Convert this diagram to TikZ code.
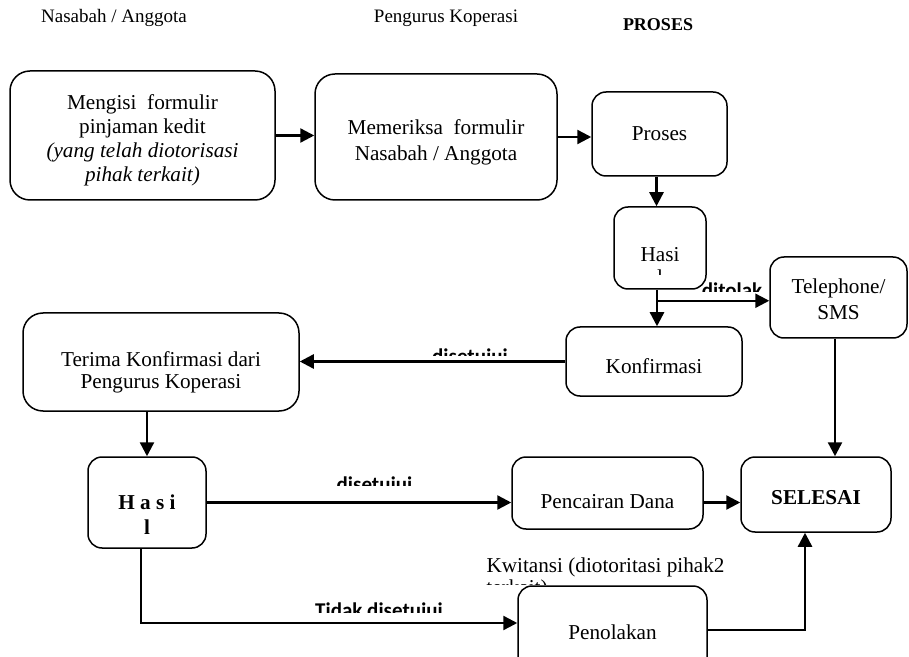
\documentclass[tikz,border=0pt]{standalone}
\usepackage{fontspec}
\setmainfont{Liberation Serif}
\newfontfamily\lblfont{Carlito}
\usetikzlibrary{arrows.meta}
\begin{document}
\begin{tikzpicture}[x=0.5pt,y=-0.5pt,
  box/.style={draw, line width=0.75pt, rounded corners=7pt, inner sep=0pt},
  bigbox/.style={box, rounded corners=10pt},
  arr/.style={line width=1.2pt, -{Triangle[length=7pt,width=7pt]}},
  lbl/.style={font=\lblfont\bfseries\fontsize{10.5}{12}\selectfont, anchor=base, inner sep=0pt},
  txt/.style={font=\fontsize{10.6}{12}\selectfont, inner sep=0pt, align=center},
  hdr/.style={font=\fontsize{9.5}{11}\selectfont, inner sep=0pt}]
\useasboundingbox (0,0) rectangle (909,657);
\clip (0,0) rectangle (909,657);

% headers
\node[hdr] (hA) at (114,18) {Nasabah / Anggota};
\node[hdr] (hB) at (446,18) {Pengurus Koperasi};
\node[hdr, font=\fontsize{9}{11}\selectfont\bfseries] (hC) at (658,25) {PROSES};

% boxes
\node[bigbox, minimum width=132.5pt, minimum height=64.5pt] (m1) at (142.5,135.5) {};
\node[txt] (m1t) at (142.5,140)
  {Mengisi\ \ formulir\\pinjaman kedit\\\textit{(yang telah diotorisasi}\\\textit{pihak terkait)}};
\node[bigbox, minimum width=121pt, minimum height=63pt] (m2) at (436,137) {};
\node[txt, font=\fontsize{10.6}{13}\selectfont] (m2t) at (436,142) {Memeriksa\ \ formulir\\Nasabah / Anggota};
\node[box, minimum width=67.5pt, minimum height=42pt] (pr) at (659.5,134) {};
\node[txt] (prt) at (659.5,134) {Proses};
\node[box, minimum width=46pt, minimum height=41pt] (h1) at (660,248) {};
\node[txt] (h1t) at (660,255) {Hasi};
\begin{scope}
  \clip (620,265) rectangle (700,275);
  \node[txt, anchor=base] (h1l) at (660,285) {l};
\end{scope}
\node[box, minimum width=68.5pt, minimum height=40.5pt] (tel) at (838.5,297.5) {};
\node[txt, font=\fontsize{10.6}{13}\selectfont] (telt) at (838.5,299) {Telephone/\\SMS};
\node[box, minimum width=88pt, minimum height=34.5pt] (kon) at (654,361.5) {};
\node[txt] (kont) at (654,366) {Konfirmasi};
\node[bigbox, minimum width=138pt, minimum height=49pt] (ter) at (161,362) {};
\node[txt, font=\fontsize{10.6}{11}\selectfont] (tert) at (161,372) {Terima Konfirmasi dari\\Pengurus Koperasi};
\node[box, minimum width=59pt, minimum height=45.5pt] (h2) at (147,502.5) {};
\node[txt, font=\fontsize{10.6}{12.5}\selectfont\bfseries] (h2t) at (147,515) {H a s i\\l};
\node[box, minimum width=95.5pt, minimum height=36pt] (pc) at (607.5,493) {};
\node[txt] (pct) at (607.5,502) {Pencairan Dana};
\node[box, minimum width=75pt, minimum height=37.5pt] (sel) at (816,494.5) {};
\node[txt, font=\fontsize{10.6}{12}\selectfont\bfseries] (selt) at (816,498) {SELESAI};
\node[box, minimum width=94.5pt, minimum height=46pt] (pen) at (612.5,632) {};
\node[txt] (pent) at (612.5,632) {Penolakan};

% Kwitansi note
\node[txt, anchor=base] (kw) at (605.5,572) {Kwitansi (diotoritasi pihak2};
\begin{scope}
  \clip (480,570) rectangle (740,584);
  \node[txt, anchor=base west] (kw2) at (486,594) {terkait)};
\end{scope}

% connectors
\draw[arr] (m1.east) -- (m1.east -| m2.west);
\draw[arr] (m2.east) -- (m2.east -| pr.west);
\draw[arr] ([xshift=-1.5pt]pr.south) -- ([xshift=-1.5pt]pr.south |- h1.north);
\draw[arr] ([xshift=-1.5pt]h1.south) -- ([xshift=-1.5pt]h1.south |- kon.north);
\coordinate (br) at ([xshift=-1.5pt,yshift=-5.5pt]h1.south);
\draw[arr] (br) -- (br -| tel.west);
\draw[arr] (kon.west) -- (kon.west -| ter.east);
\draw[arr] (h2.north |- ter.south) -- (h2.north);
\draw[arr] (h2.east) -- (h2.east -| pc.west);
\draw[arr] (h2.east -| pc.east) -- (h2.east -| sel.west);
\draw[arr] ([xshift=-1.75pt]tel.south) -- ([xshift=-1.75pt]tel.south |- sel.north);
\draw[arr] ([xshift=-3pt]h2.south) |- ([yshift=4.5pt]pen.west);
\draw[arr] ([yshift=1pt]pen.east) -| ([xshift=-5.5pt]sel.south);

% clipped labels
\begin{scope}
  \clip (690,270) rectangle (780,292);
  \node[lbl] (lt) at (732,297.5) {ditolak};
\end{scope}
\begin{scope}
  \clip (420,340) rectangle (520,355);
  \node[lbl] (ls1) at (470,363.5) {disetujui};
\end{scope}
\begin{scope}
  \clip (320,470) rectangle (430,485);
  \node[lbl] (ls2) at (374.5,491.5) {disetujui};
\end{scope}
\begin{scope}
  \clip (300,595) rectangle (460,612);
  \node[lbl] (ls3) at (379,617.5) {Tidak disetujui};
\end{scope}
\end{tikzpicture}
\end{document}
